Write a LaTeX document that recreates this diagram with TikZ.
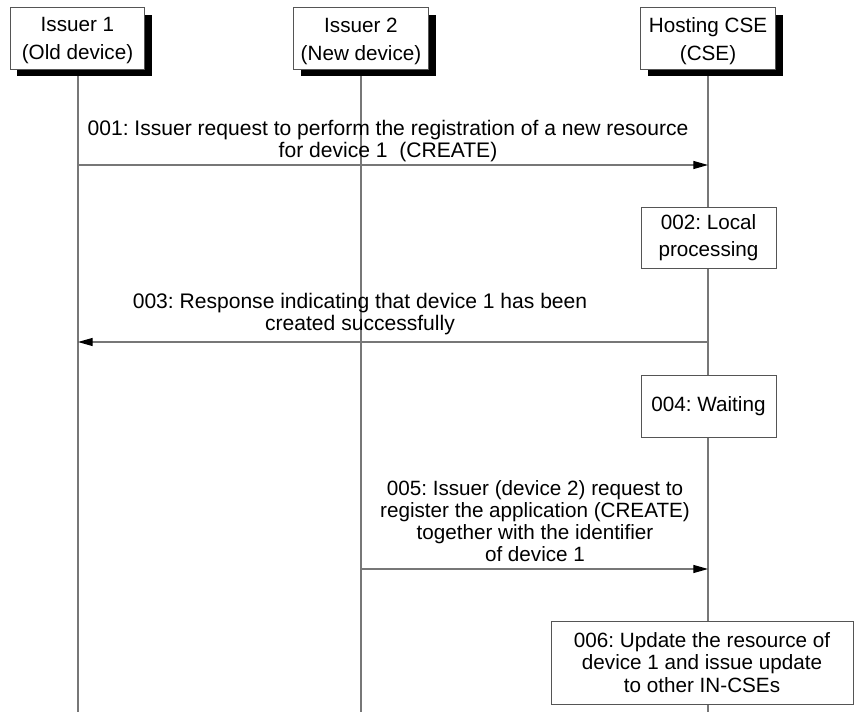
\documentclass[tikz,border=0pt]{standalone}
\usepackage{fontspec}
\setmainfont{Liberation Sans}
\usetikzlibrary{arrows.meta}
\definecolor{lifegray}{HTML}{777777}
\definecolor{boxgray}{HTML}{555555}
\frenchspacing
\tikzset{
  x=0.75pt, y=-0.75pt,
  txt/.style={font=\fontsize{15.8pt}{16pt}\selectfont, align=center, inner sep=0pt},
  actorbox/.style={draw=boxgray, fill=white, line width=0.6pt, minimum width=101pt, minimum height=46pt, inner sep=0pt},
  actortext/.style={align=center, inner sep=0pt, font=\fontsize{15.5pt}{21pt}\selectfont},
  shadowbox/.style={fill=black},
  procbox/.style={draw=boxgray, fill=white, line width=0.6pt, align=center, inner sep=0pt},
  lifeline/.style={draw=lifegray, line width=0.9pt},
  msg/.style={draw=lifegray, line width=0.9pt, -{Triangle[length=11pt,width=6pt,fill=black,color=black]}},
}
\begin{document}
\begin{tikzpicture}
\useasboundingbox (0,0) rectangle (855,712);
% lifelines
\coordinate (la0) at (78,69);   \coordinate (la1) at (78,712);
\coordinate (lb0) at (361,69);  \coordinate (lb1) at (361,712);
\coordinate (lc0) at (708,69);  \coordinate (lc1) at (708,712);
\draw[lifeline] (la0) -- (la1);
\draw[lifeline] (lb0) -- (lb1);
\draw[lifeline] (lc0) -- (lc1);
% actor shadows
\fill[shadowbox] (17,15) rectangle (152,76);
\fill[shadowbox] (301,15) rectangle (436,76);
\fill[shadowbox] (648,15) rectangle (783,76);
% actors
\node[actorbox] (A) at (77.5,38.5) {};
\node[actorbox] (B) at (361,38.5) {};
\node[actorbox] (C) at (708,38.5) {};
\node[actortext] (At) at (77.5,41) {Issuer 1\\(Old device)};
\node[actortext] (Bt) at (361,41) {Issuer 2\\(New device)};
\node[actortext] (Ct) at (708,41) {Hosting CSE\\(CSE)};
% process boxes
\node[procbox, minimum width=101.25pt, minimum height=45.75pt, font=\fontsize{15.5pt}{20pt}\selectfont] (P2) at (708.5,237.5) {002: Local\\processing};
\node[procbox, minimum width=101.25pt, minimum height=46.5pt, font=\fontsize{15.5pt}{20pt}\selectfont] (P4) at (708.5,406) {004: Waiting};
\node[procbox, minimum width=226.5pt, minimum height=62.25pt, font=\fontsize{15.5pt}{17pt}\selectfont] (P6) at (702,662.5) {006: Update the resource of\\device 1 and issue update\\to other IN-CSEs};
% messages
\coordinate (m1a) at (78,165);  \coordinate (m1c) at (708,165);
\coordinate (m3c) at (708,342); \coordinate (m3a) at (78,342);
\coordinate (m5b) at (361,569); \coordinate (m5c) at (708,569);
\draw[msg] (m1a) -- (m1c);
\draw[msg] (m3c) -- (m3a);
\draw[msg] (m5b) -- (m5c);
% labels
\node[txt] (t1) at (388,141) {001: Issuer request to perform the registration of a new resource\\for device 1~~(CREATE)};
\node[txt] (t3) at (360,314) {003: Response indicating that device 1 has been\\created successfully};
\node[txt, font=\fontsize{15.5pt}{16.5pt}\selectfont] (t5) at (535,521) {005: Issuer (device 2) request to\\register the application (CREATE)\\together with the identifier\\of device 1};
\end{tikzpicture}
\end{document}
